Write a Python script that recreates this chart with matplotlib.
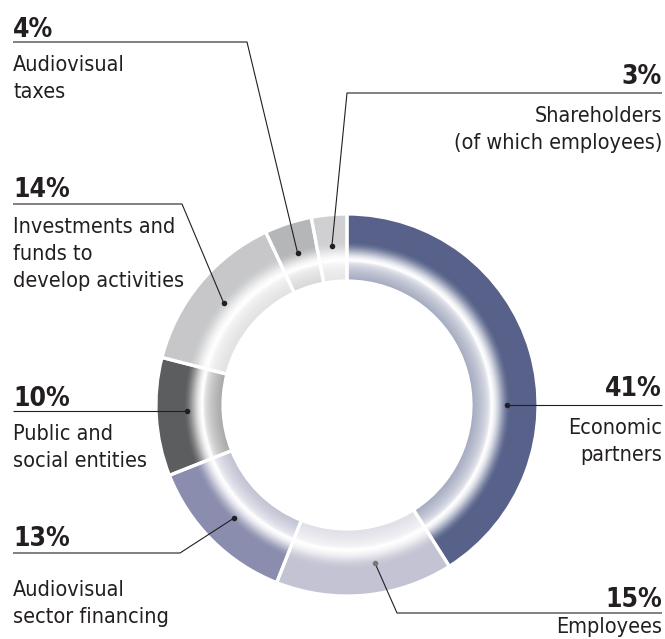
import numpy as np
import matplotlib
matplotlib.use("Agg")
import matplotlib.pyplot as plt
from matplotlib.colors import to_rgb
from matplotlib import font_manager as fm

# Value added distribution
labels = ["Economic\npartners", "Employees", "Audiovisual\nsector financing",
          "Public and\nsocial entities", "Investments and\nfunds to\ndevelop activities",
          "Audiovisual\ntaxes", "Shareholders\n(of which employees)"]
shares = [41, 15, 13, 10, 14, 4, 3]
colors = ["#57628a", "#c4c4d4", "#8a8dad", "#5c5d5f", "#c7c8ca", "#b5b6b9", "#d0d1d3"]

W, H = 665, 639
CX, CY = 347, 405          # ring centre in pixels (y down)
R_OUT, R_IN = 191, 124
R_DOT = 160
INK = "#231f20"

# label layout: side, y of the percent baseline, y of leader line, elbow x
layout = [
    ("right", 396, None, None),
    ("right", 607, 613, 397),
    ("left", 546, 553, 180),
    ("left", 406, None, None),
    ("left", 197, 204, 182),
    ("left", 37, 42, 247),
    ("right", 84, 93, 347),
]
# anchor angles (deg clockwise from top) where the dot sits, when not the mid angle
anchor_override = {0: 90, 1: 170, 3: 268}


# pick a narrow font if one is installed
def pick_font():
    for fam, stretch in [("Liberation Sans Narrow", "normal"), ("DejaVu Sans", "condensed")]:
        try:
            f = fm.findfont(fm.FontProperties(family=fam, stretch=stretch),
                            fallback_to_default=False)
            if "Narrow" in f or "Condensed" in f:
                return fam, stretch, 15.5, 19
        except Exception:
            pass
    return "Liberation Sans", "normal", 14.5, 18


FAMILY, STRETCH, FS_TXT, FS_PCT = pick_font()
plt.rcParams["font.family"] = [FAMILY, "DejaVu Sans"]

fig = plt.figure(figsize=(W / 100, H / 100), dpi=100)
ax = fig.add_axes([0, 0, 1, 1])


def Y(y):
    return H - y


def weight(r):
    # share of the base colour across the ring (white highlight inside the ring)
    w = np.ones_like(r)
    lo = r <= 144
    t = np.clip((144 - r[lo]) / 20, 0, 1)
    w[lo] = 0.55 * np.sqrt(t)
    mid = (r > 144) & (r < 164)
    t = (r[mid] - 144) / 20
    w[mid] = t * t * (3 - 2 * t)
    return w


wedges, _ = ax.pie(shares, colors=colors, radius=R_OUT, center=(CX, Y(CY)),
                   startangle=90, counterclock=False,
                   wedgeprops=dict(width=R_OUT - R_IN, linewidth=0))

# radial white highlight, clipped to each slice
n = 2 * 2 * R_OUT
gx = np.linspace(-R_OUT, R_OUT, n)
gxx, gyy = np.meshgrid(gx, gx)
w = weight(np.hypot(gxx, gyy))[..., None]
extent = [CX - R_OUT, CX + R_OUT, Y(CY) - R_OUT, Y(CY) + R_OUT]
for wedge, c in zip(wedges, colors):
    b = np.array(to_rgb(c))
    img = 1.0 + (b - 1.0) * w
    im = ax.imshow(img, extent=extent, origin="lower", interpolation="bilinear",
                   zorder=2)
    im.set_clip_path(wedge)

# white separators between the slices
ax.pie(shares, colors=["none"] * len(shares), radius=R_OUT, center=(CX, Y(CY)),
       startangle=90, counterclock=False,
       wedgeprops=dict(width=R_OUT - R_IN, edgecolor="white", linewidth=2.3,
                       zorder=3))

# labels with leader lines
cum = np.cumsum([0] + shares)
for i, lab in enumerate(labels):
    ang = anchor_override.get(i, (cum[i] + shares[i] / 2) / sum(shares) * 360)
    dx = R_DOT * np.sin(np.radians(ang))
    dy = -R_DOT * np.cos(np.radians(ang))
    px, py = CX + dx, CY + dy
    side, pct_y, line_y, elbow = layout[i]
    if line_y is None:
        line_y = py
        elbow = px
    x_text = 662 if side == "right" else 13
    ha = "right" if side == "right" else "left"
    ax.plot([x_text, elbow, px], [Y(line_y), Y(line_y), Y(py)],
            color=INK, lw=0.8, solid_capstyle="butt", zorder=4)
    ax.plot(px, Y(py), "o", ms=4, color="#777777" if i == 1 else INK,
            mec="none", zorder=5)
    ax.text(x_text, Y(pct_y), f"{shares[i]}%", ha=ha, va="baseline",
            fontsize=FS_PCT, fontweight="bold", fontstretch=STRETCH, color=INK)
    for k, line in enumerate(lab.split("\n")):
        if i == 2:
            base_y = pct_y + 50 + k * 27
        elif i == 1:
            base_y = line_y + 20
        else:
            base_y = line_y + 29 + k * 27
        ax.text(x_text, Y(base_y), line, ha=ha, va="baseline",
                fontsize=FS_TXT, fontstretch=STRETCH, color=INK)

ax.set_xlim(0, W)
ax.set_ylim(0, H)
ax.axis("off")
fig.savefig("out.png", dpi=100)
